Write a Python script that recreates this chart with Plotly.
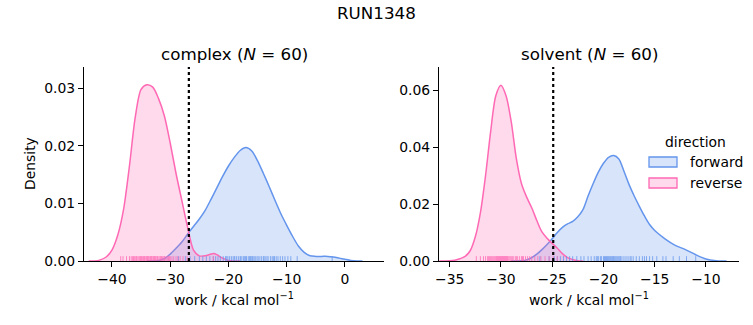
import plotly.graph_objects as go

# ---------------- data ----------------
fig_title = "RUN1348"
panel_names = ["complex", "solvent"]
panel_n = [60, 60]
x_label = "work / kcal mol<sup>−1</sup>"
dg_lines = [-26.8, -24.9]          # dotted vertical reference per panel
legend_title = "direction"
legend_names = ["forward", "reverse"]

# KDE curves: complex panel
cx_rev_x = [-44, -43, -42, -41, -40, -39, -38, -37, -36, -35, -34, -33, -32, -31, -30,
            -29, -28, -27, -26, -25, -24, -23, -22.5, -22, -21, -20, -19, -18]
cx_rev_y = [0.0, 0.0000, 0.0002, 0.0007, 0.0019, 0.0045, 0.0090, 0.0165, 0.0250, 0.0298,
            0.0306, 0.0302, 0.0282, 0.0252, 0.0205, 0.0152, 0.0105, 0.0058, 0.0019,
            0.0009, 0.0009, 0.0012, 0.0013, 0.0011, 0.0005, 0.0001, 0.0, 0.0]
cx_fwd_x = [-34, -33, -32, -31, -30, -29, -28, -27, -26, -25, -24, -23, -22, -21, -20, -19,
            -18, -17, -16, -15, -14, -13, -12, -11, -10, -9, -8, -7, -6, -5, -4, -3, -2,
            -1, 0, 1, 2, 3]
cx_fwd_y = [0.0, 0.0, 0.0001, 0.0004, 0.0012, 0.0022, 0.0033, 0.0047, 0.0060, 0.0073,
            0.0088, 0.0107, 0.0127, 0.0147, 0.0165, 0.0180, 0.0192, 0.0197, 0.0191,
            0.0174, 0.0152, 0.0129, 0.0105, 0.0082, 0.0062, 0.0043, 0.0026, 0.0015,
            0.0009, 0.0008, 0.0008, 0.0008, 0.0007, 0.0005, 0.0003, 0.0001, 0.0, 0.0]

# KDE curves: solvent panel
sv_rev_x = [-36, -35, -34.5, -34, -33.5, -33, -32.5, -32, -31.5, -31, -30.5, -30, -29.5,
            -29, -28.5, -28, -27.5, -27, -26.5, -26, -25.5, -25, -24.5, -24, -23.5, -23,
            -22.5, -22]
sv_rev_y = [0.0, 0.0001, 0.0003, 0.0008, 0.0016, 0.0036, 0.0085, 0.0170, 0.0300, 0.0455,
            0.0580, 0.0617, 0.0580, 0.0490, 0.0360, 0.0272, 0.0225, 0.0187, 0.0142,
            0.0102, 0.0080, 0.0062, 0.0045, 0.0026, 0.0012, 0.0005, 0.0001, 0.0]
sv_fwd_x = [-29, -28, -27.5, -27, -26.5, -26, -25.5, -25, -24.5, -24, -23.5, -23, -22.5,
            -22, -21.5, -21, -20.5, -20, -19.5, -19, -18.5, -18, -17.5, -17, -16.5, -16,
            -15.5, -15, -14, -13, -12, -11, -10, -9, -8.5, -8]
sv_fwd_y = [0.0, 0.0001, 0.0004, 0.0012, 0.0024, 0.0040, 0.0058, 0.0078, 0.0100, 0.0118,
            0.0130, 0.0139, 0.0155, 0.0180, 0.0228, 0.0272, 0.0312, 0.0343, 0.0364,
            0.0370, 0.0358, 0.0315, 0.0268, 0.0228, 0.0192, 0.0158, 0.0128, 0.0107,
            0.0078, 0.0055, 0.0040, 0.0022, 0.0007, 0.0001, 0.0, 0.0]

# individual work values (rug)
cx_fwd_w = [-28.6, -27.4, -26.6, -25.8, -25.0, -24.4, -23.8, -23.2, -22.6, -22.2, -21.8,
            -21.4, -20.9, -20.5, -20.3, -20.1, -19.8, -19.5, -19.2, -19.0, -18.9, -18.6,
            -18.3, -18.0, -17.9, -17.7, -17.4, -17.2, -17.1, -16.9, -16.6, -16.4, -16.2,
            -16.1, -15.9, -15.8, -15.6, -15.4, -15.1, -14.9, -14.6, -14.3, -14.0, -13.9,
            -13.7, -13.4, -13.2, -12.8, -12.5, -12.3, -12.1, -11.8, -11.5, -11.1, -10.7,
            -10.3, -9.8, -9.3, -8.2, -2.2]
cx_rev_w = [-38.5, -38.1, -37.5, -37.0, -36.7, -36.5, -36.3, -36.1, -35.9, -35.8, -35.7,
            -35.5, -35.3, -35.1, -35.0, -34.9, -34.8, -34.6, -34.5, -34.4, -34.3, -34.1,
            -34.0, -33.9, -33.8, -33.7, -33.5, -33.4, -33.3, -33.2, -33.1, -32.9, -32.8,
            -32.7, -32.6, -32.5, -32.3, -32.2, -32.1, -31.9, -31.7, -31.6, -31.5, -31.3,
            -31.1, -31.0, -30.9, -30.7, -30.5, -30.3, -30.1, -30.0, -29.7, -29.4, -29.0,
            -28.7, -28.3, -27.8, -27.1, -22.6]
sv_fwd_w = [-26.2, -25.3, -24.8, -24.5, -24.2, -23.9, -23.6, -23.3, -23.0, -22.6, -22.2,
            -21.9, -21.5, -21.2, -20.9, -20.7, -20.6, -20.5, -20.3, -20.2, -20.0, -19.9,
            -19.8, -19.7, -19.6, -19.5, -19.4, -19.3, -19.2, -19.1, -19.05, -19.0, -18.9,
            -18.8, -18.7, -18.6, -18.5, -18.4, -18.35, -18.2, -18.0, -17.8, -17.6, -17.4,
            -17.3, -17.1, -16.8, -16.5, -16.2, -16.0, -15.8, -15.5, -15.2, -14.8, -14.2,
            -13.9, -13.2, -12.6, -11.9, -11.0]
sv_rev_w = [-32.4, -32.0, -31.7, -31.5, -31.3, -31.2, -31.1, -31.0, -30.9, -30.8, -30.7,
            -30.6, -30.5, -30.45, -30.4, -30.35, -30.3, -30.25, -30.2, -30.15, -30.1,
            -30.05, -30.0, -29.95, -29.9, -29.85, -29.8, -29.75, -29.7, -29.65, -29.6,
            -29.55, -29.5, -29.45, -29.4, -29.35, -29.3, -29.2, -29.1, -29.0, -28.9, -28.8,
            -28.6, -28.5, -28.4, -28.2, -28.0, -27.9, -27.8, -27.6, -27.4, -27.2, -27.0,
            -26.7, -26.4, -26.1, -25.7, -25.3, -24.9, -24.5]

# axis settings
x_ranges = [[-44.8, 6.7], [-36.04, -6.78]]
y_ranges = [[0, 0.0337], [0, 0.0681]]
x_ticks = [[-40, -30, -20, -10, 0], [-35, -30, -25, -20, -15, -10]]
y_ticks = [[0.0, 0.01, 0.02, 0.03], [0.0, 0.02, 0.04, 0.06]]

# ---------------- style ----------------
W, H = 753, 325
FONT = "DejaVu Sans"
BLUE = "#6495ED"
PINK = "#FF69B4"
BLUE_FILL = "rgba(100,149,237,0.25)"
PINK_FILL = "rgba(255,105,180,0.25)"
x_dom = [[84 / W, 384 / W], [439 / W, 739 / W]]
y_dom = [1 - 261 / H, 1 - 67 / H]

fig = go.Figure()

panels = [
    (cx_fwd_x, cx_fwd_y, cx_rev_x, cx_rev_y, cx_fwd_w, cx_rev_w),
    (sv_fwd_x, sv_fwd_y, sv_rev_x, sv_rev_y, sv_fwd_w, sv_rev_w),
]

for i, (fx, fy, rx, ry, fw, rw) in enumerate(panels):
    xa = "x" if i == 0 else "x2"
    ya = "y" if i == 0 else "y2"
    fig.add_trace(go.Scatter(x=fx, y=fy, mode="lines", line=dict(color=BLUE, width=1.5, shape="spline", smoothing=0.8),
                             fill="tozeroy", fillcolor=BLUE_FILL, name=legend_names[0],
                             showlegend=False, xaxis=xa, yaxis=ya))
    fig.add_trace(go.Scatter(x=rx, y=ry, mode="lines", line=dict(color=PINK, width=1.5, shape="spline", smoothing=0.8),
                             fill="tozeroy", fillcolor=PINK_FILL, name=legend_names[1],
                             showlegend=False, xaxis=xa, yaxis=ya))
    h = 0.025 * (y_ranges[i][1] - y_ranges[i][0])
    for vals, col in ((fw, BLUE), (rw, PINK)):
        xs, ys = [], []
        for v in vals:
            xs += [v, v, None]
            ys += [0, h, None]
        fig.add_trace(go.Scatter(x=xs, y=ys, mode="lines", line=dict(color=col, width=1),
                                 opacity=0.75, showlegend=False, hoverinfo="skip", xaxis=xa, yaxis=ya))
    fig.add_trace(go.Scatter(x=[dg_lines[i], dg_lines[i]], y=y_ranges[i], mode="lines",
                             line=dict(color="black", width=2.2, dash="3px,3px"),
                             showlegend=False, hoverinfo="skip", xaxis=xa, yaxis=ya))

axis_common = dict(showgrid=False, zeroline=False, showline=True, linecolor="black", linewidth=1.1,
                   ticks="outside", ticklen=5, tickwidth=1.1, tickcolor="black",
                   tickfont=dict(family=FONT, size=13.9, color="black"), automargin=False)

for i in range(2):
    sfx = "" if i == 0 else "2"
    fig.layout["xaxis" + sfx] = dict(axis_common, domain=x_dom[i], range=x_ranges[i],
                                     tickvals=x_ticks[i], anchor="y" + sfx)
    fig.layout["yaxis" + sfx] = dict(axis_common, domain=y_dom, range=y_ranges[i],
                                     tickvals=y_ticks[i], tickformat=".2f", anchor="x" + sfx)

annotations = []
for i in range(2):
    cx = (x_dom[i][0] + x_dom[i][1]) / 2
    annotations.append(dict(text=f"{panel_names[i]} (<i>N</i> = {panel_n[i]})", x=cx, y=1 - 54 / H,
                            xref="paper", yref="paper", showarrow=False, xanchor="center", yanchor="middle",
                            font=dict(family=FONT, size=16.7, color="black")))
    annotations.append(dict(text=x_label, x=cx, y=1 - 299 / H, xref="paper", yref="paper",
                            showarrow=False, xanchor="center", yanchor="middle",
                            font=dict(family=FONT, size=13.9, color="black")))
annotations.append(dict(text="Density", x=30 / W, y=1 - 164 / H, xref="paper", yref="paper",
                        showarrow=False, textangle=-90, xanchor="center", yanchor="middle",
                        font=dict(family=FONT, size=13.9, color="black")))
annotations.append(dict(text=fig_title, x=0.5, y=1 - 13 / H, xref="paper", yref="paper",
                        showarrow=False, xanchor="center", yanchor="middle",
                        font=dict(family=FONT, size=16.7, color="black")))

# legend drawn as patches + labels (matplotlib-style rectangular handles)
shapes = []
annotations.append(dict(text=legend_title, x=695 / W, y=1 - 142 / H, xref="paper", yref="paper",
                        showarrow=False, xanchor="center", yanchor="middle",
                        font=dict(family=FONT, size=13.9, color="black")))
for k, (nm, lc, fc) in enumerate(zip(legend_names, [BLUE, PINK], [BLUE_FILL, PINK_FILL])):
    yc = 162 + 21 * k
    shapes.append(dict(type="rect", xref="paper", yref="paper",
                       x0=649 / W, x1=677 / W, y0=1 - (yc + 5) / H, y1=1 - (yc - 5) / H,
                       fillcolor=fc, line=dict(color=lc, width=1.3)))
    annotations.append(dict(text=nm, x=688 / W, y=1 - yc / H, xref="paper", yref="paper",
                            showarrow=False, xanchor="left", yanchor="middle",
                            font=dict(family=FONT, size=13.9, color="black")))

fig.update_layout(
    width=W, height=H,
    margin=dict(l=0, r=0, t=0, b=0),
    paper_bgcolor="white", plot_bgcolor="white",
    font=dict(family=FONT, size=13.9, color="black"),
    annotations=annotations,
    shapes=shapes,
    showlegend=False,
)

fig.write_html("out.html")
